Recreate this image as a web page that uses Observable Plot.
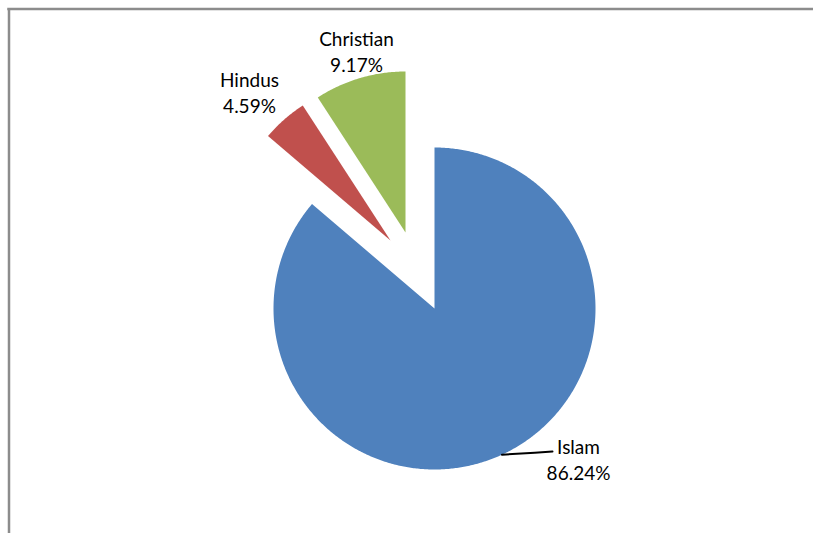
<!DOCTYPE html>
<html>
<head>
<meta charset="utf-8">
<script src="https://cdn.jsdelivr.net/npm/d3@7"></script>
<script src="https://cdn.jsdelivr.net/npm/@observablehq/plot@0.6"></script>
<style>
  html, body { margin: 0; padding: 0; background: #fff; }
  #chart { width: 813px; height: 533px; overflow: hidden; }
</style>
</head>
<body>
<div id="chart"></div>
<script>
// ---- data ----
const religions = ["Islam", "Hindus", "Christian"];
const shares = [86.24, 4.59, 9.17];
const labels = ["86.24%", "4.59%", "9.17%"];
const colors = ["#4F81BD", "#C0504D", "#9BBB59"];

// ---- layout (pixels) ----
const W = 813, H = 533;
const cx = 434, cy = 308, R = 161;
const explode = [[0, 0], [-44, -68], [-29, -76]];          // slice offsets
const labelOffset = [[144, 150], [-141, -148.5], [-49, -182]]; // label centre relative to slice centre

const arcs = d3.pie().sort(null).value(d => d).startAngle(0).endAngle(2 * Math.PI)(shares);

const polys = [];
const labelRows = [];
arcs.forEach((a, i) => {
  const ox = cx + explode[i][0], oy = cy + explode[i][1];
  polys.push({name: religions[i], x: ox, y: oy});
  const n = Math.max(8, Math.ceil((a.endAngle - a.startAngle) / (Math.PI / 360)));
  for (let k = 0; k <= n; k++) {
    const t = a.startAngle + (a.endAngle - a.startAngle) * k / n;
    polys.push({name: religions[i], x: ox + R * Math.sin(t), y: oy - R * Math.cos(t)});
  }
  labelRows.push({
    text: religions[i] + "\n" + labels[i],
    x: ox + labelOffset[i][0],
    y: oy + labelOffset[i][1]
  });
});

// leader line for Islam from arc midpoint to label
const a0 = arcs[0];
const mid = (a0.startAngle + a0.endAngle) / 2;
const lsx = cx + R * Math.sin(mid), lsy = cy - R * Math.cos(mid);
const lex = labelRows[0].x - 26, ley = labelRows[0].y - 7;
const leader = [
  {x: lsx, y: lsy},
  {x: lsx + (lex - lsx) * 0.65, y: ley + 1.2},
  {x: lex, y: ley}
];

const plot = Plot.plot({
  width: W,
  height: H,
  margin: 0,
  x: {domain: [0, W], range: [0, W], axis: null},
  y: {domain: [0, H], range: [0, H], axis: null},
  color: {domain: religions, range: colors},
  style: {background: "#fff"},
  marks: [
    Plot.ruleX([8.5], {y1: 8.5, y2: H, stroke: "#8c8c8c", strokeWidth: 2.5}),
    Plot.ruleY([8.5], {x1: 7.25, x2: W, stroke: "#8c8c8c", strokeWidth: 2.5}),
    Plot.line(polys, {x: "x", y: "y", z: "name", fill: "name", stroke: "none"}),
    Plot.line(leader, {x: "x", y: "y", curve: "natural", stroke: "#000", strokeWidth: 2}),
    Plot.text(labelRows, {
      x: "x", y: "y", text: "text",
      fontFamily: "Lato", fontSize: 19, lineHeight: 1.37,
      fill: "#000", textAnchor: "middle", lineAnchor: "middle"
    })
  ]
});
document.getElementById("chart").appendChild(plot);
</script>
</body>
</html>
